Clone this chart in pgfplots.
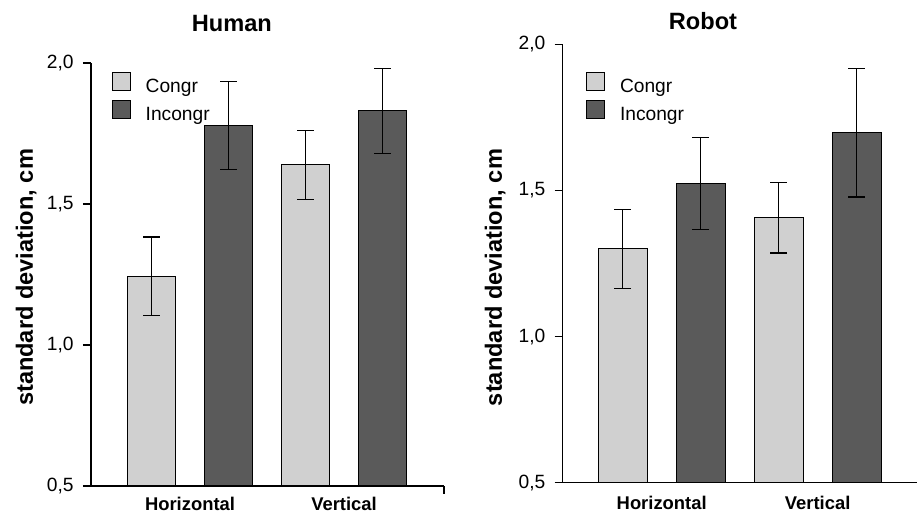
\documentclass[border=0pt]{standalone}
\usepackage{fontspec}
\setmainfont{Liberation Sans}
\usepackage{pgfplots}
\pgfplotsset{compat=1.18}
\definecolor{congr}{HTML}{D0D0D0}
\definecolor{incongr}{HTML}{5A5A5A}
\pgfplotsset{
  panel/.style={
    scale only axis, anchor=south west,
    ymin=0.5, ymax=2.0,
    axis lines*=left,
    axis line style={line width=0.6pt, black},
    tick align=outside, major tick length=4pt,
    every tick/.style={black, line width=0.6pt},
    ytick={0.5,1,1.5,2}, yticklabels={{0,5},{1,0},{1,5},{2,0}},
    yticklabel style={font=\fontsize{9.6}{10}\selectfont, inner sep=1pt, xshift=-3.5pt},
    xtick={1.5,3.5}, xticklabels={Horizontal,Vertical},
    xtick style={draw=none},
    xticklabel style={font=\bfseries\fontsize{9.2}{10}\selectfont, inner sep=0pt, yshift=-2.5pt},
    /pgf/number format/assume math mode=true,
    title style={font=\bfseries\fontsize{11.8}{13}\selectfont, anchor=center},
    ylabel={standard deviation, cm},
    ylabel style={font=\bfseries\fontsize{11.8}{13}\selectfont, anchor=center},
    legend cell align=left,
    legend image code/.code={\draw[#1,draw=black,line width=0.5pt] (0pt,-1.3pt) rectangle (9pt,7.7pt);},
    legend style={anchor=north west, draw=none, fill=none, inner sep=0pt, outer sep=0pt,
      column sep=7.5pt, row sep=1.9pt,
      nodes={inner sep=0pt, text height=6.5pt, text depth=2pt, font=\fontsize{9.6}{10}\selectfont}},
  },
  barC/.style={ybar, bar shift=0pt, bar width=0.63, fill=congr, draw=black, line width=0.5pt,
    error bars/.cd, y dir=both, y explicit,
    error bar style={line width=0.65pt, black},
    error mark options={rotate=90, line width=0.65pt, mark size=4.2pt, black}},
  barI/.style={ybar, bar shift=0pt, bar width=0.63, fill=incongr, draw=black, line width=0.5pt,
    error bars/.cd, y dir=both, y explicit,
    error bar style={line width=0.65pt, black},
    error mark options={rotate=90, line width=0.65pt, mark size=4.2pt, black}},
}
\begin{document}
\begin{tikzpicture}
\useasboundingbox (0pt,0pt) rectangle (458.5pt,256.5pt);
% Human
\begin{axis}[panel,
  at={(45.5pt,13.5pt)}, width=176.5pt, height=211.5pt,
  xmin=0.214, xmax=4.798,
  extra x ticks={4.798}, extra x tick labels={},
  extra x tick style={xtick style={draw=black}},
  xticklabel style={yshift=1pt},
  title={Human}, title style={at={(axis description cs:0.399,1.066)}},
  ylabel style={at={(axis description cs:-0.184,0.493)}},
  legend style={at={(axis description cs:0.0586,0.979)}},
]
\addplot[barC] coordinates {(1,1.2435) +- (0,0.1395) (3,1.639) +- (0,0.122)};
\addlegendentry{Congr}
\addplot[barI] coordinates {(2,1.779) +- (0,0.156) (4,1.830) +- (0,0.150)};
\addlegendentry{Incongr}
\end{axis}
% Robot
\begin{axis}[panel,
  at={(281.35pt,15.15pt)}, width=177.15pt, height=219.2pt,
  xmin=0.231, xmax=4.773,
  title={Robot}, title style={at={(axis description cs:0.396,1.0246)}},
  ylabel style={at={(axis description cs:-0.191,0.468)}},
  legend style={at={(axis description cs:0.0658,0.9375)}},
]
\addplot[barC] coordinates {(1,1.300) +- (0,0.135) (3,1.406) +- (0,0.120)};
\addlegendentry{Congr}
\addplot[barI] coordinates {(2,1.523) +- (0,0.157) (4,1.697) +- (0,0.220)};
\addlegendentry{Incongr}
\end{axis}
\end{tikzpicture}
\end{document}
